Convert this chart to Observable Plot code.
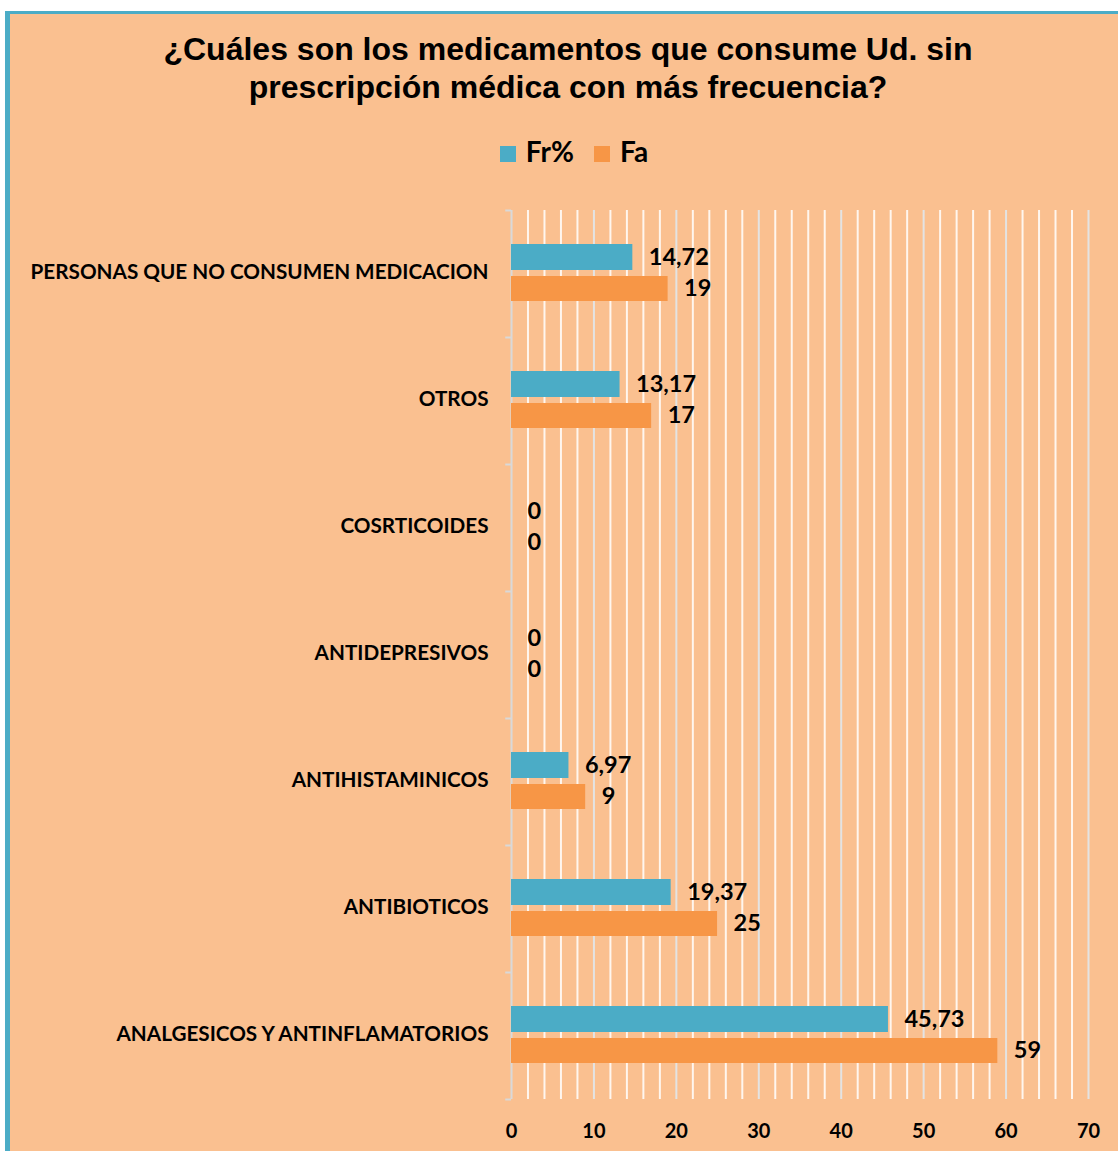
<!DOCTYPE html>
<html>
<head>
<meta charset="utf-8">
<script src="https://cdn.jsdelivr.net/npm/d3@7"></script>
<script src="https://cdn.jsdelivr.net/npm/@observablehq/plot@0.6"></script>
<style>
  html, body { margin: 0; padding: 0; background: #ffffff; }
  #panel { position: absolute; left: 5px; top: 11px; width: 1113px; height: 1140px;
    box-sizing: border-box; background: #FAC090; border-left: 5px solid #4BACC6; border-top: 3px solid #4BACC6; }
  #title { position: absolute; left: 0; top: 30px; width: 1136px; text-align: center;
    font-family: "Liberation Sans", Arial, sans-serif; font-weight: bold; font-size: 32px; line-height: 38px; color: #000; }
  #legend { position: absolute; left: 0; top: 134px; width: 1148px; text-align: center;
    font-family: Lato, "Open Sans", sans-serif; font-weight: bold; font-size: 28px; line-height: 34px; color: #000; }
  #legend .item { display: inline-block; margin: 0 10px; }
  #legend .sw { display: inline-block; width: 16px; height: 16px; margin-right: 10px; vertical-align: 0px; }
  #chart { position: absolute; left: 0; top: 190px; }
</style>
</head>
<body>
<div id="panel"></div>
<div id="title">¿Cuáles son los medicamentos que consume Ud. sin<br>prescripción médica con más frecuencia?</div>
<div id="legend"></div>
<div id="chart"></div>
<script>
// ---- data ----
const categories = [
  "PERSONAS QUE NO CONSUMEN MEDICACION",
  "OTROS",
  "COSRTICOIDES",
  "ANTIDEPRESIVOS",
  "ANTIHISTAMINICOS",
  "ANTIBIOTICOS",
  "ANALGESICOS Y ANTINFLAMATORIOS"
];
const seriesNames = ["Fr%", "Fa"];
const frValues = [14.72, 13.17, 0, 0, 6.97, 19.37, 45.73];
const faValues = [19, 17, 0, 0, 9, 25, 59];
const xTicks = [0, 10, 20, 30, 40, 50, 60, 70];
const gridStep = 2;
const colors = {"Fr%": "#4BACC6", "Fa": "#F79646"};

const rows = [];
categories.forEach((c, i) => {
  rows.push({category: c, series: "Fr%", value: frValues[i]});
  rows.push({category: c, series: "Fa", value: faValues[i]});
});

// legend
const legend = document.getElementById("legend");
seriesNames.forEach(s => {
  const it = document.createElement("span");
  it.className = "item";
  it.innerHTML = `<span class="sw" style="background:${colors[s]}"></span>${s}`;
  legend.appendChild(it);
});

const W = 1118, H = 961;
const mL = 511, mR = 30, mT = 20, mB = 52;
const band = (H - mT - mB) / categories.length;
const fmt = v => String(v).replace(".", ",");
const minorGrid = d3.range(gridStep, 71, gridStep).filter(v => !xTicks.includes(v));
const majorGrid = xTicks.filter(v => v > 0);
const font = "Lato, 'Open Sans', sans-serif";

const chart = Plot.plot({
  width: W, height: H,
  marginLeft: mL, marginRight: mR, marginTop: mT, marginBottom: mB,
  style: {background: "transparent", fontFamily: font, color: "#000"},
  x: {domain: [0, 70], axis: null},
  y: {domain: categories, padding: 0, axis: null},
  marks: [
    Plot.ruleX(minorGrid, {stroke: "#ffffff", strokeWidth: 2, strokeOpacity: 0.85}),
    Plot.ruleX(majorGrid, {stroke: "#e3e3e3", strokeWidth: 2}),
    Plot.ruleX([0], {stroke: "#d9d9d9", strokeWidth: 2}),
    Plot.ruleY(categories, {y: d => d, x1: -0.7, x2: 0, dy: -band / 2, stroke: "#d9d9d9", strokeWidth: 2}),
    Plot.ruleY(categories.slice(-1), {y: d => d, x1: -0.7, x2: 0, dy: band / 2, stroke: "#d9d9d9", strokeWidth: 2}),
    Plot.barX(rows.filter(d => d.series === "Fr%"), {
      x: "value", y: "category", fill: colors["Fr%"],
      insetTop: 34, insetBottom: band - 60
    }),
    Plot.barX(rows.filter(d => d.series === "Fa"), {
      x: "value", y: "category", fill: colors["Fa"],
      insetTop: 66, insetBottom: band - 91
    }),
    Plot.text(rows.filter(d => d.series === "Fr%"), {
      x: "value", y: "category", text: d => fmt(d.value), dx: 16, dy: -17,
      textAnchor: "start", fontSize: 23.5, fontWeight: "bold", fill: "#000"
    }),
    Plot.text(rows.filter(d => d.series === "Fa"), {
      x: "value", y: "category", text: d => fmt(d.value), dx: 16, dy: 14,
      textAnchor: "start", fontSize: 23.5, fontWeight: "bold", fill: "#000"
    }),
    Plot.axisY({tickSize: 0, tickPadding: 23, fontSize: 20.7, fontWeight: "bold", label: null, dy: -2}),
    Plot.axisX({ticks: xTicks, tickSize: 0, tickPadding: 24, fontSize: 20, fontWeight: "bold", label: null})
  ]
});
document.getElementById("chart").appendChild(chart);
</script>
</body>
</html>
